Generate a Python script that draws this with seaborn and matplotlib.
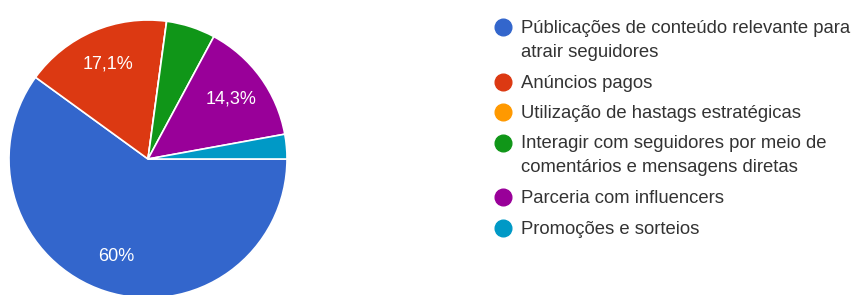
import numpy as np
import seaborn as sb
import matplotlib.pyplot as plt

# data (35 responses)
labels = [
    "Públicações de conteúdo relevante para\natrair seguidores",
    "Anúncios pagos",
    "Utilização de hastags estratégicas",
    "Interagir com seguidores por meio de\ncomentários e mensagens diretas",
    "Parceria com influencers",
    "Promoções e sorteios",
]
counts = [21, 6, 0, 2, 5, 1]
colors = ["#3366CC", "#DC3912", "#FF9900", "#109618", "#990099", "#0099C6"]

sb.set_style("white")
plt.rcParams['font.family'] = ['Liberation Sans', 'DejaVu Sans']

W, H = 856, 295
fig = plt.figure(figsize=(W / 100, H / 100), dpi=100)
# pie centre at (148, 159) px, radius 139 px
r = 139
ax = fig.add_axes([(148 - r) / W, (H - 159 - r) / H, 2 * r / W, 2 * r / H])


def pct_label(p):
    if p < 10:
        return ""
    s = "%.1f" % p
    if s.endswith(".0"):
        s = s[:-2]
    return s.replace(".", ",") + "%"


wedges, texts, autotexts = ax.pie(
    counts,
    colors=colors,
    startangle=0,
    counterclock=False,
    autopct=pct_label,
    pctdistance=0.74,
    wedgeprops=dict(edgecolor="white", linewidth=1.2),
    textprops=dict(color="white", fontsize=13),
)
ax.set_xlim(-1, 1)
ax.set_ylim(-1, 1)
ax.set_aspect("equal")
ax.axis("off")

# legend drawn by hand so the marker sits on the first line of wrapped labels
lax = fig.add_axes([0, 0, 1, 1])
lax.set_xlim(0, W)
lax.set_ylim(H, 0)
lax.axis("off")

y = 27
line_pitch = 24
entry_pitch = 30.5
for lab, c in zip(labels, colors):
    lax.scatter([503], [y], s=12 ** 2, color=c, zorder=3)
    lines = lab.split("\n")
    for i, ln in enumerate(lines):
        lax.text(521, y + 1.5 + i * line_pitch, ln, fontsize=13.3, color="#333333",
                 va="center", ha="left")
    y += (len(lines) - 1) * line_pitch + entry_pitch

fig.savefig("out.png", dpi=100)
